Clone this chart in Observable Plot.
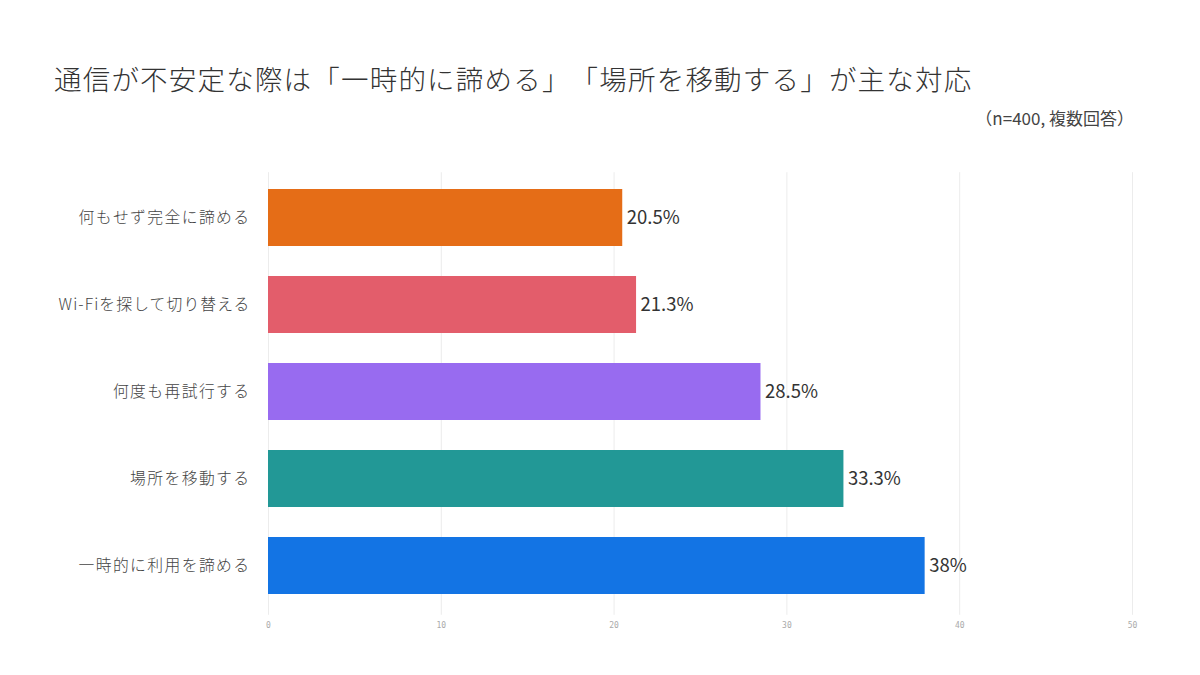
<!DOCTYPE html>
<html>
<head>
<meta charset="utf-8">
<script src="https://cdn.jsdelivr.net/npm/d3@7"></script>
<script src="https://cdn.jsdelivr.net/npm/@observablehq/plot@0.6"></script>
<style>
  html, body { margin: 0; padding: 0; background: #fff; }
  body { width: 1200px; height: 675px; position: relative; overflow: hidden; font-family: "Noto Sans CJK JP", "Noto Sans", sans-serif; text-spacing-trim: space-all; }
  #title { position: absolute; left: 54px; top: 58px; font-size: 27.5px; color: #333; font-weight: 300; letter-spacing: 1.2px; white-space: nowrap; text-spacing-trim: space-all; }
  #subtitle { position: absolute; right: 66px; top: 105px; font-size: 17px; color: #444; font-weight: 400; white-space: nowrap; text-spacing-trim: space-all; }
  #chart { position: absolute; left: 0; top: 146px; }
</style>
</head>
<body>
<div id="title">通信が不安定な際は「一時的に諦める」「場所を移動する」が主な対応</div>
<div id="subtitle">（n=400, 複数回答）</div>
<div id="chart"></div>
<script>
const categories = ["何もせず完全に諦める", "Wi-Fiを探して切り替える", "何度も再試行する", "場所を移動する", "一時的に利用を諦める"];
const values = [20.5, 21.3, 28.5, 33.3, 38];
const valueLabels = ["20.5%", "21.3%", "28.5%", "33.3%", "38%"];
const colors = ["#E56D17", "#E35D6B", "#986BF0", "#229896", "#1374E4"];
const xTicks = [0, 10, 20, 30, 40, 50];

const data = categories.map((c, i) => ({category: c, value: values[i], label: valueLabels[i], color: colors[i]}));

const chart = Plot.plot({
  width: 1200,
  height: 500,
  marginLeft: 268,
  marginRight: 68,
  marginTop: 10.2,
  marginBottom: 19.2,
  style: {fontFamily: "'Noto Sans CJK JP', 'Noto Sans', sans-serif", background: "#fff"},
  x: {domain: [0, 50], axis: null},
  y: {domain: categories, padding: 0.35, axis: null},
  marks: [
    Plot.ruleX(xTicks, {stroke: "#ececec", strokeWidth: 1, insetTop: 16, insetBottom: 12}),
    Plot.barX(data, {x: "value", y: "category", fill: "color"}),
    Plot.text(data, {x: "value", y: "category", text: "label", textAnchor: "start", dx: 4, fontSize: 18.5, fill: "#333"}),
    Plot.axisY({tickSize: 0, tickPadding: 18, fontSize: 15.8, fontWeight: 300, color: "#444", label: null}),
    Plot.axisX(xTicks, {tickSize: 0, tickPadding: 0, dy: -5, fontSize: 8, color: "#aaa", fontFamily: "'DejaVu Sans Mono', monospace", label: null})
  ]
});
chart.querySelectorAll("g[aria-label='y-axis tick label'] text").forEach(t => {
  t.setAttribute("letter-spacing", t.textContent.startsWith("Wi-Fi") ? "1.1" : "1.4");
});
document.getElementById("chart").appendChild(chart);
</script>
</body>
</html>
